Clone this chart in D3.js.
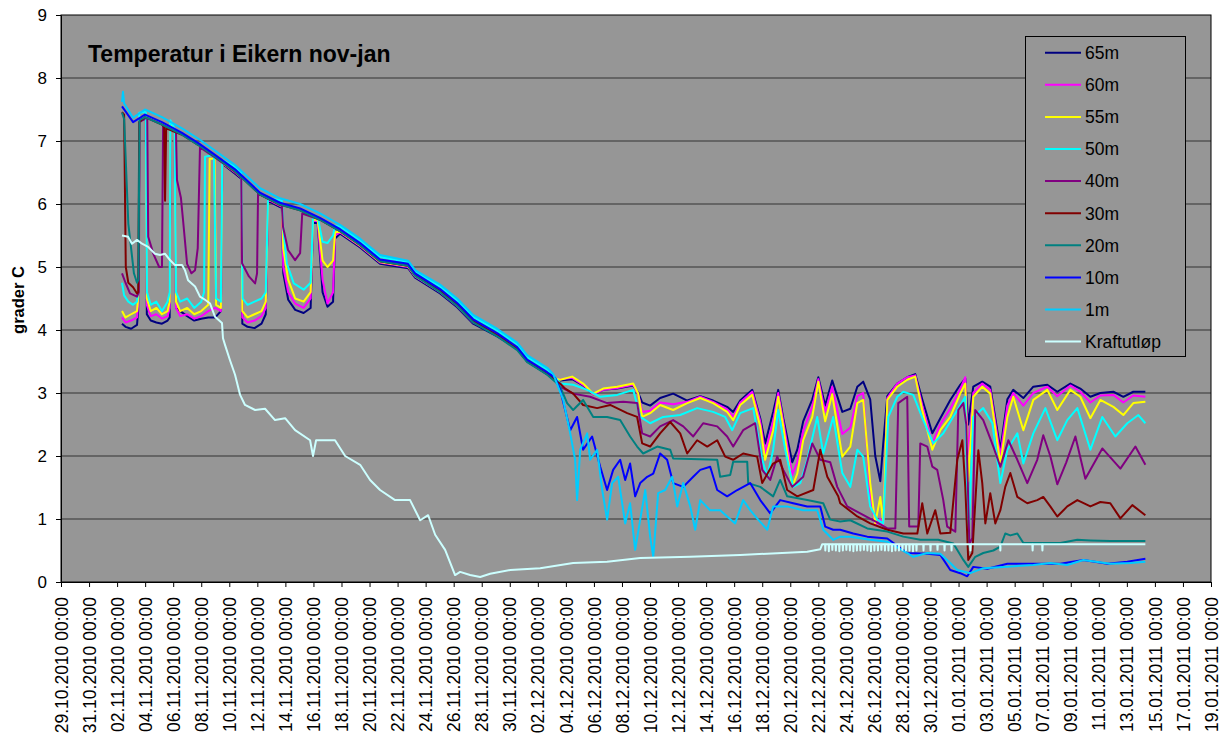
<!DOCTYPE html>
<html>
<head>
<meta charset="utf-8">
<script src="https://cdn.jsdelivr.net/npm/d3@7"></script>
<style>
  body { margin: 0; background: #fff; }
  text { font-family: Arial, "Liberation Sans", sans-serif; }
</style>
</head>
<body>
<script>
'use strict'

// time is given in days after 29.10.2010 00:00, values in degrees C
const startDay = Date.UTC(2010, 9, 29)
const endDay = Date.UTC(2011, 0, 19)
const yTicks = [0, 1, 2, 3, 4, 5, 6, 7, 8, 9]
const seriesNames = ['65m', '60m', '55m', '50m', '40m', '30m', '20m', '10m', '1m', 'Kraftutløp']
const chartTitle = 'Temperatur i Eikern nov-jan'
const yLabel = 'grader C'

const s65m = [[4.35,4.1],[4.6,4.05],[5.0,4.02],[5.42,4.08],[5.5,4.3],[5.6,7.33],[5.99,7.35],[6.05,7.35],
  [6.12,4.25],[6.4,4.15],[6.8,4.12],[7.2,4.1],[7.6,4.15],[7.75,4.2],[7.8,7.25],[8.1,7.12],
  [8.2,4.35],[8.5,4.3],[9.0,4.22],[9.5,4.15],[10.0,4.18],[10.5,4.2],[11.0,4.2],[11.4,4.3],[11.5,6.64],
  [12.41,6.48],[12.85,6.4],[12.93,4.1],[13.3,4.05],[13.8,4.03],[14.3,4.1],[14.6,4.25],[14.76,6.05],
  [15.62,5.95],[15.75,5.94],[15.85,4.9],[16.2,4.48],[16.7,4.32],[17.3,4.27],[17.8,4.35],[17.97,5.7],
  [18.3,5.7],[18.65,4.6],[19.0,4.37],[19.4,4.45],[19.54,5.45],[19.9,5.53],[21.33,5.31],[22.75,5.05],
  [24.75,4.98],[25.25,4.83],[27.03,4.58],[28.25,4.36],[29.39,4.1],[31.1,3.9],[32.53,3.7],[33.24,3.5],
  [34.67,3.3],[35.24,3.2],[35.59,3.2],[36.45,3.22],[37.23,3.12],[37.95,2.98],[38.66,3.05],[39.66,3.07],
  [40.8,3.12],[41.16,3.0],[41.44,2.85],[42.01,2.8],[42.72,2.92],[43.65,2.99],[44.65,2.88],[45.58,2.95],
  [46.5,2.88],[47.5,2.78],[47.93,2.7],[48.43,2.88],[49.29,3.05],[49.86,2.6],[50.21,2.2],[50.78,2.7],
  [51.14,3.05],[51.5,2.6],[52.14,1.9],[52.5,2.1],[52.92,2.55],[53.57,2.9],[54.0,3.25],[54.49,2.8],
  [54.99,3.2],[55.71,2.7],[56.28,2.75],[56.78,3.1],[57.2,3.18],[57.7,2.9],[58.06,2.0],[58.42,1.6],
  [58.63,2.2],[58.92,2.95],[59.63,3.15],[60.34,3.25],[60.91,3.3],[61.41,2.9],[62.13,2.36],[62.7,2.6],
  [63.41,2.89],[64.12,3.13],[64.48,3.23],[64.69,2.5],[65.05,3.1],[65.69,3.18],[66.26,3.1],[66.98,2.1],
  [67.48,2.9],[67.9,3.05],[68.62,2.92],[69.33,3.1],[70.33,3.13],[71.04,3.02],[71.97,3.15],[72.68,3.07],
  [73.4,2.94],[74.11,3.0],[75.04,3.02],[75.75,2.94],[76.46,3.02],[77.32,3.02]]

const s60m = [[4.35,4.2],[4.6,4.12],[5.0,4.15],[5.42,4.2],[5.5,4.4],[5.6,7.36],[5.99,7.37],[6.05,7.37],
  [6.12,4.4],[6.4,4.22],[6.8,4.25],[7.2,4.18],[7.6,4.22],[7.75,4.35],[7.8,7.27],[8.1,7.14],
  [8.2,4.35],[8.5,4.22],[9.0,4.25],[9.5,4.18],[10.0,4.22],[10.5,4.3],[11.0,4.35],[11.4,4.3],[11.5,6.65],
  [12.41,6.5],[12.85,6.42],[12.93,4.2],[13.3,4.12],[13.8,4.15],[14.3,4.22],[14.6,4.35],[14.76,6.07],
  [15.62,5.97],[15.75,5.96],[15.85,5.0],[16.2,4.6],[16.7,4.42],[17.3,4.35],[17.8,4.5],[17.97,5.73],
  [18.3,5.73],[18.65,4.8],[19.0,4.42],[19.4,4.6],[19.54,5.5],[19.9,5.55],[21.33,5.33],[22.75,5.07],
  [24.75,5.0],[25.25,4.85],[27.03,4.6],[28.25,4.38],[29.39,4.12],[31.1,3.93],[32.53,3.71],[33.24,3.51],
  [34.67,3.31],[35.24,3.22],[35.59,3.22],[36.45,3.24],[37.23,3.13],[37.95,2.98],[38.66,3.05],[39.66,3.08],
  [40.8,3.13],[41.16,2.98],[41.44,2.7],[42.01,2.72],[42.72,2.85],[43.65,2.82],[44.65,2.86],[45.58,2.94],
  [46.5,2.86],[47.5,2.74],[47.93,2.62],[48.43,2.85],[49.29,3.02],[49.86,2.55],[50.21,2.05],[50.78,2.55],
  [51.14,3.0],[51.5,2.55],[52.14,1.7],[52.5,1.9],[52.92,2.4],[53.57,2.78],[54.0,3.22],[54.49,2.7],
  [54.99,3.1],[55.71,2.35],[56.28,2.45],[56.78,2.95],[57.2,3.0],[57.7,1.4],[58.06,0.9],[58.42,1.0],
  [58.63,0.9],[58.92,2.92],[59.63,3.15],[60.34,3.25],[60.91,3.28],[61.41,2.8],[62.13,2.2],[62.7,2.5],
  [63.41,2.75],[64.12,3.06],[64.48,3.25],[64.69,2.0],[65.05,3.0],[65.69,3.15],[66.26,3.05],[66.98,2.0],
  [67.48,2.8],[67.9,3.0],[68.62,2.8],[69.33,3.0],[70.33,3.1],[71.04,2.95],[71.97,3.12],[72.68,3.02],
  [73.4,2.85],[74.11,2.96],[75.04,2.97],[75.75,2.85],[76.46,2.96],[77.32,2.94]]

const s55m = [[4.35,4.3],[4.6,4.2],[5.0,4.25],[5.42,4.3],[5.5,4.5],[5.6,7.38],[5.99,7.38],[6.05,7.38],
  [6.12,4.5],[6.4,4.3],[6.8,4.35],[7.2,4.25],[7.6,4.3],[7.75,4.45],[7.8,7.28],[8.1,7.15],
  [8.2,4.45],[8.5,4.3],[9.0,4.35],[9.5,4.25],[10.0,4.3],[10.5,4.4],[10.6,6.72],[10.95,6.72],[11.06,4.4],
  [11.4,4.35],[11.5,6.65],[12.41,6.51],[12.85,6.43],[12.93,4.3],[13.3,4.2],[13.8,4.25],[14.3,4.3],
  [14.6,4.45],[14.76,6.08],[15.62,5.98],[15.75,5.97],[15.85,5.3],[16.2,4.8],[16.7,4.5],[17.3,4.45],
  [17.8,4.6],[17.97,5.75],[18.3,5.75],[18.65,5.1],[19.0,5.0],[19.4,5.1],[19.54,5.55],[19.9,5.56],
  [21.33,5.34],[22.75,5.08],[24.75,5.01],[25.25,4.86],[27.03,4.61],[28.25,4.39],[29.39,4.13],[31.1,3.95],
  [32.53,3.73],[33.24,3.53],[34.67,3.33],[35.24,3.23],[35.59,3.21],[36.45,3.26],[37.23,3.15],[37.95,2.99],
  [38.66,3.07],[39.66,3.1],[40.8,3.15],[41.16,2.99],[41.44,2.62],[42.01,2.68],[42.72,2.81],[43.65,2.73],
  [44.65,2.84],[45.58,2.92],[46.5,2.84],[47.5,2.7],[47.93,2.57],[48.43,2.81],[49.29,2.97],[49.86,2.47],
  [50.21,1.94],[50.78,2.41],[51.14,2.94],[51.5,2.47],[52.14,1.51],[52.5,1.72],[52.92,2.25],[53.57,2.62],
  [54.0,3.18],[54.49,2.55],[54.99,2.98],[55.71,1.99],[56.28,2.15],[56.78,2.84],[57.2,2.89],[57.7,1.57],
  [58.06,0.93],[58.42,1.35],[58.63,0.93],[58.92,2.89],[59.63,3.1],[60.34,3.21],[60.91,3.26],[61.41,2.73],
  [62.13,2.1],[62.7,2.41],[63.41,2.62],[64.12,2.99],[64.48,3.15],[64.69,1.6],[65.05,2.94],[65.69,3.1],
  [66.26,2.99],[66.98,1.88],[67.48,2.62],[67.9,2.94],[68.62,2.41],[69.33,2.89],[70.33,3.05],[71.04,2.73],
  [71.97,3.05],[72.68,2.94],[73.4,2.6],[74.11,2.89],[75.04,2.78],[75.75,2.65],[76.46,2.84],[77.32,2.86]]

const s50m = [[4.35,4.75],[4.5,4.55],[4.8,4.45],[5.14,4.4],[5.42,4.45],[5.5,4.6],[5.58,7.45],[5.99,7.46],
  [6.05,7.45],[6.13,4.6],[6.4,4.4],[6.8,4.45],[7.2,4.3],[7.6,4.45],[7.75,4.6],[7.8,7.33],[8.1,7.2],
  [8.2,4.6],[8.5,4.45],[9.0,4.5],[9.5,4.35],[10.0,4.45],[10.2,4.6],[10.27,6.75],[10.9,6.78],[11.06,4.5],
  [11.4,4.45],[11.5,6.7],[12.41,6.59],[12.85,6.5],[12.95,4.5],[13.3,4.4],[13.8,4.45],[14.3,4.5],
  [14.6,4.6],[14.76,6.1],[15.62,6.06],[15.75,6.05],[15.85,5.6],[16.1,5.06],[16.6,4.74],[17.3,4.64],
  [17.8,4.75],[17.97,5.8],[18.3,5.8],[18.65,5.4],[19.0,5.38],[19.4,5.5],[19.54,5.66],[19.9,5.64],
  [21.33,5.42],[22.75,5.16],[24.75,5.08],[25.25,4.93],[27.03,4.69],[28.25,4.47],[29.39,4.21],[31.1,3.99],
  [32.53,3.77],[33.24,3.57],[34.67,3.37],[35.24,3.25],[35.59,3.15],[36.52,3.13],[37.52,3.05],[38.45,2.94],
  [39.66,2.97],[40.8,3.05],[41.3,2.62],[42.01,2.52],[42.94,2.62],[44.15,2.65],[45.36,2.76],[46.5,2.7],
  [47.36,2.62],[47.86,2.41],[48.43,2.68],[49.36,2.76],[50.0,1.94],[50.36,1.67],[50.78,2.1],[51.14,2.73],
  [51.64,2.1],[52.21,1.51],[52.71,1.57],[53.21,1.94],[53.92,2.62],[54.35,2.04],[55.06,2.62],[55.71,1.73],
  [56.28,1.51],[56.78,2.1],[57.2,1.99],[57.7,1.2],[58.2,0.99],[58.63,0.93],[58.99,2.62],[59.63,2.94],
  [60.06,3.02],[60.77,2.97],[61.48,2.57],[62.2,2.2],[62.91,2.36],[63.91,2.73],[64.48,2.94],[64.69,0.56],
  [65.05,2.62],[65.76,2.76],[66.41,2.52],[66.98,1.57],[67.48,2.1],[68.19,2.36],[68.62,1.88],[69.33,2.36],
  [70.19,2.76],[71.04,2.25],[71.75,2.57],[72.47,2.76],[73.4,2.1],[74.25,2.62],[75.18,2.31],[76.03,2.52],
  [76.82,2.65],[77.32,2.52]]

const s40m = [[4.35,4.9],[4.6,4.75],[4.92,4.58],[5.42,4.53],[5.55,4.6],[5.6,7.3],[5.99,7.36],[6.15,7.36],
  [6.22,5.48],[6.6,5.2],[7.0,5.0],[7.2,5.0],[7.28,7.25],[8.2,7.14],[8.27,6.38],[8.55,6.1],[8.7,5.75],
  [8.99,5.05],[9.3,4.9],[9.56,4.95],[9.75,5.3],[9.91,6.9],[10.98,6.74],[12.41,6.51],[12.85,6.43],
  [12.91,5.06],[13.4,4.85],[13.84,4.74],[13.98,4.9],[14.05,6.17],[15.62,5.98],[15.75,5.97],[15.83,5.64],
  [16.19,5.27],[16.69,5.11],[17.05,5.22],[17.2,5.85],[18.47,5.75],[19.9,5.57],[21.33,5.35],[22.75,5.09],
  [24.75,5.02],[25.25,4.87],[27.03,4.62],[28.25,4.4],[29.39,4.14],[31.1,3.92],[32.53,3.7],[33.24,3.5],
  [34.67,3.3],[35.24,3.22],[35.59,3.1],[36.52,2.99],[37.73,2.94],[38.94,2.84],[40.09,2.86],[41.08,2.84],
  [41.44,2.36],[42.01,2.31],[42.72,2.47],[43.65,2.57],[44.37,2.47],[45.08,2.31],[45.79,2.52],[46.79,2.47],
  [47.5,2.31],[47.93,2.15],[48.64,2.41],[49.5,2.52],[50.0,1.78],[50.57,1.62],[51.07,1.99],[51.5,1.78],
  [52.14,1.51],[52.92,1.67],[53.57,2.2],[54.14,1.94],[54.85,1.9],[55.35,1.51],[56.06,1.2],[56.99,1.09],
  [57.92,0.98],[58.92,0.85],[59.49,0.85],[59.7,2.84],[60.34,2.94],[60.48,0.88],[61.13,0.88],[61.27,2.2],
  [61.77,2.15],[62.13,1.83],[62.48,1.78],[62.91,1.3],[63.19,0.88],[63.77,0.8],[63.98,2.73],[64.34,2.84],
  [64.55,2.5],[64.77,0.6],[64.98,0.7],[65.19,2.73],[65.76,2.57],[66.48,2.15],[66.98,1.83],[67.55,2.25],
  [68.19,1.94],[68.9,1.57],[69.61,1.94],[70.04,2.33],[70.54,2.0],[71.04,1.55],[71.68,1.9],[72.33,2.31],
  [73.04,1.64],[74.25,2.12],[75.54,1.8],[76.61,2.15],[77.32,1.86]]

const s30m = [[4.35,7.46],[4.5,7.42],[4.62,5.0],[4.8,4.75],[5.14,4.68],[5.42,4.58],[5.5,4.6],[5.58,7.3],
  [5.99,7.38],[7.2,7.26],[7.35,7.22],[7.42,6.05],[7.5,7.2],[8.63,7.1],[9.77,6.94],[10.98,6.75],
  [12.41,6.52],[14.19,6.15],[15.62,5.99],[17.05,5.9],[18.47,5.75],[19.9,5.57],[21.33,5.35],[22.75,5.09],
  [24.75,5.02],[25.25,4.87],[27.03,4.62],[28.25,4.4],[29.39,4.14],[31.1,3.92],[32.53,3.7],[33.24,3.5],
  [34.67,3.3],[35.24,3.2],[35.59,3.15],[35.95,3.07],[36.52,2.99],[37.23,2.81],[38.23,2.76],[39.16,2.81],
  [40.37,2.68],[41.08,2.62],[41.44,2.2],[42.01,2.15],[42.72,2.36],[43.44,2.54],[44.15,2.36],[44.65,2.04],
  [45.36,2.25],[46.08,2.15],[46.79,2.25],[47.36,1.99],[47.93,1.94],[48.64,2.04],[49.64,1.99],[50.0,1.57],
  [50.78,1.88],[51.28,1.94],[51.78,1.46],[52.5,1.36],[53.64,1.46],[54.14,2.1],[54.64,1.67],[55.42,1.36],
  [55.56,1.25],[56.78,1.04],[57.7,0.93],[58.92,0.83],[60.06,0.77],[61.06,0.77],[61.41,1.25],[61.77,0.77],
  [62.34,1.14],[62.7,0.77],[63.41,0.78],[63.91,1.94],[64.27,2.25],[64.48,1.51],[64.69,0.35],[64.98,0.46],
  [65.41,2.09],[65.69,1.57],[65.91,0.93],[66.26,1.41],[66.62,0.93],[66.98,1.14],[67.33,1.51],[67.69,1.73],
  [68.19,1.35],[68.9,1.25],[69.61,1.3],[70.04,1.35],[70.54,1.2],[71.04,1.04],[71.75,1.2],[72.47,1.3],
  [73.4,1.2],[74.11,1.27],[74.82,1.25],[75.54,1.01],[76.39,1.22],[77.32,1.06]]

const s20m = [[4.35,7.45],[4.5,7.35],[4.8,5.69],[5.2,4.9],[5.42,4.75],[5.52,4.8],[5.6,7.33],[5.99,7.38],
  [7.2,7.26],[8.63,7.1],[9.77,6.94],[10.98,6.75],[12.41,6.52],[14.19,6.15],[15.62,5.99],[17.05,5.9],
  [18.47,5.75],[19.9,5.57],[21.33,5.35],[22.75,5.09],[24.75,5.02],[25.25,4.86],[27.03,4.6],[28.25,4.38],
  [29.39,4.12],[31.1,3.9],[32.53,3.68],[33.24,3.49],[34.67,3.29],[35.24,3.18],[35.59,3.1],[36.09,2.84],
  [36.52,2.73],[37.23,2.89],[37.95,2.62],[38.94,2.62],[39.87,2.57],[40.58,2.31],[41.08,2.15],[41.51,2.04],
  [42.51,2.15],[43.44,2.1],[43.65,1.96],[46.79,1.94],[47.0,1.67],[47.72,1.7],[47.93,1.91],[48.93,1.91],
  [49.0,1.57],[49.86,1.51],[50.78,1.36],[51.28,1.62],[51.78,1.36],[53.21,1.3],[54.35,1.25],[54.85,0.99],
  [55.56,0.96],[56.28,0.98],[57.49,0.85],[58.92,0.8],[60.06,0.72],[61.27,0.67],[62.55,0.67],[63.63,0.61],
  [64.34,0.35],[64.69,0.24],[65.19,0.4],[65.76,0.46],[66.48,0.5],[66.98,0.56],[67.33,0.77],[67.69,0.74],
  [68.19,0.77],[68.62,0.62],[71.26,0.62],[72.47,0.67],[73.4,0.66],[74.82,0.65],[77.32,0.65]]

const s10m = [[4.35,7.55],[5.14,7.3],[5.99,7.42],[7.2,7.3],[8.63,7.13],[9.77,6.97],[10.98,6.78],[12.41,6.55],
  [14.19,6.18],[15.62,6.02],[17.05,5.93],[18.47,5.78],[19.9,5.6],[21.33,5.38],[22.75,5.12],[24.75,5.05],
  [25.25,4.9],[27.03,4.65],[28.25,4.43],[29.39,4.17],[31.1,3.95],[32.53,3.73],[33.24,3.53],[34.67,3.33],
  [35.24,3.24],[35.59,3.05],[35.95,2.73],[36.31,2.41],[36.8,2.62],[37.23,2.1],[37.87,2.31],[38.45,1.83],
  [38.94,1.46],[39.37,1.78],[39.87,1.94],[40.23,1.62],[40.58,1.88],[40.94,1.36],[41.3,1.57],[41.8,1.67],
  [42.23,1.72],[42.72,2.04],[43.22,1.94],[43.65,1.57],[44.37,1.51],[45.08,1.67],[45.58,1.78],[46.29,1.83],
  [46.79,1.46],[47.5,1.36],[48.22,1.46],[49.14,1.57],[49.86,1.3],[50.57,1.09],[51.28,1.3],[52.21,1.25],
  [53.21,1.2],[54.14,1.2],[54.49,0.88],[55.06,0.83],[55.56,0.83],[56.49,0.77],[57.49,0.72],[58.92,0.69],
  [60.34,0.46],[61.77,0.45],[62.7,0.43],[63.41,0.19],[64.12,0.14],[64.62,0.09],[65.05,0.24],[66.05,0.21],
  [67.48,0.29],[69.33,0.29],[71.26,0.29],[72.9,0.35],[74.61,0.29],[76.03,0.32],[77.32,0.37]]

const s1m = [[4.35,7.62],[4.42,7.78],[4.5,7.6],[5.14,7.37],[5.99,7.5],[7.2,7.38],[8.63,7.2],[9.77,7.04],
  [10.98,6.85],[12.41,6.62],[14.19,6.25],[15.62,6.09],[17.05,6.0],[18.47,5.85],[19.9,5.67],[21.33,5.45],
  [22.75,5.19],[24.75,5.1],[25.25,4.95],[27.03,4.72],[28.25,4.5],[29.39,4.24],[31.1,4.02],[32.53,3.8],
  [33.24,3.6],[34.67,3.4],[35.1,3.3],[35.81,2.89],[36.31,2.36],[36.66,1.94],[36.8,1.3],[37.02,2.1],
  [37.52,2.36],[37.73,1.94],[38.23,2.1],[38.59,1.46],[38.94,0.99],[39.3,1.57],[39.73,1.67],[40.23,0.93],
  [40.58,1.25],[40.94,0.51],[41.3,0.99],[41.66,1.46],[42.01,0.72],[42.23,0.4],[42.58,1.41],[43.08,1.46],
  [43.58,1.67],[43.94,1.2],[44.37,1.57],[44.87,1.2],[45.22,0.83],[45.58,1.3],[46.29,1.14],[47.0,1.14],
  [47.5,1.04],[48.07,0.93],[48.64,1.3],[49.14,1.14],[49.71,0.99],[50.36,0.83],[50.78,1.2],[51.78,1.2],
  [52.92,1.14],[53.92,1.14],[54.35,0.83],[55.06,0.67],[55.56,0.72],[56.28,0.72],[57.7,0.67],[58.92,0.64],
  [60.34,0.46],[60.77,0.4],[61.77,0.46],[62.7,0.45],[63.41,0.3],[63.91,0.19],[64.84,0.14],[65.76,0.22],
  [67.19,0.24],[69.33,0.27],[70.54,0.3],[71.75,0.27],[72.9,0.35],[74.82,0.29],[76.25,0.3],[77.32,0.32]]

const sKraft = [[4.35,5.5],[4.78,5.48],[5.06,5.37],[5.42,5.43],[5.78,5.37],[6.21,5.32],[6.7,5.21],[7.06,5.19],
  [7.42,5.21],[7.77,5.11],[8.13,5.03],[8.63,5.03],[8.84,4.95],[9.06,4.79],[9.56,4.69],[9.91,4.53],
  [10.27,4.48],[10.63,4.42],[10.98,4.21],[11.48,4.11],[11.55,3.87],[11.7,3.76],[12.05,3.52],[12.41,3.29],
  [12.77,2.97],[13.12,2.81],[13.84,2.73],[14.55,2.75],[15.26,2.57],[15.98,2.6],[16.69,2.41],[17.76,2.25],
  [17.97,2.0],[18.19,2.25],[19.54,2.25],[20.26,2.0],[21.33,1.86],[22.04,1.62],[22.75,1.46],[23.82,1.3],
  [24.89,1.3],[25.61,0.98],[26.18,1.06],[26.68,0.75],[27.39,0.51],[28.1,0.11],[28.46,0.16],[29.17,0.11],
  [29.89,0.08],[30.6,0.13],[32.03,0.19],[34.17,0.22],[36.52,0.3],[38.94,0.32],[41.3,0.38],[44.87,0.4],
  [48.43,0.43],[53.21,0.48],[54.14,0.52],[54.28,0.6],
  [54.48,0.6],[54.5,0.5],[54.52,0.6],[54.73,0.6],[54.75,0.49],[54.77,0.6],[54.98,0.6],[55.0,0.51],[55.02,0.6],
  [55.23,0.6],[55.25,0.5],[55.27,0.6],[55.48,0.6],[55.5,0.49],[55.52,0.6],[55.73,0.6],[55.75,0.5],[55.77,0.6],
  [55.98,0.6],[56.0,0.51],[56.02,0.6],[56.23,0.6],[56.25,0.5],[56.27,0.6],[56.48,0.6],[56.5,0.49],[56.52,0.6],
  [56.73,0.6],[56.75,0.5],[56.77,0.6],[56.98,0.6],[57.0,0.5],[57.02,0.6],[57.23,0.6],[57.25,0.51],[57.27,0.6],
  [57.48,0.6],[57.5,0.5],[57.52,0.6],[57.73,0.6],[57.75,0.49],[57.77,0.6],[57.98,0.6],[58.0,0.5],[58.02,0.6],
  [58.23,0.6],[58.25,0.5],[58.27,0.6],[58.48,0.6],[58.5,0.51],[58.52,0.6],[58.73,0.6],[58.75,0.5],[58.77,0.6],
  [58.98,0.6],[59.0,0.5],[59.02,0.6],[59.23,0.6],[59.25,0.49],[59.27,0.6],[59.48,0.6],[59.5,0.5],[59.52,0.6],
  [59.73,0.6],[59.75,0.5],[59.77,0.6],[59.98,0.6],[60.0,0.51],[60.02,0.6],[60.23,0.6],[60.25,0.5],[60.27,0.6],
  [60.48,0.6],[60.5,0.5],[60.52,0.6],[60.73,0.6],[60.75,0.49],[60.77,0.6],[60.98,0.6],[61.0,0.5],[61.02,0.6],
  [61.48,0.6],[61.5,0.5],[61.52,0.6],[61.98,0.6],[62.0,0.5],[62.02,0.6],[62.48,0.6],[62.5,0.51],[62.52,0.6],
  [62.98,0.6],[63.0,0.5],[63.02,0.6],[63.48,0.6],[63.5,0.5],[63.52,0.6],[64.83,0.6],[64.85,0.5],[64.87,0.6],
  [66.96,0.6],[66.98,0.5],[67.0,0.6],[69.26,0.6],[69.28,0.5],[69.3,0.6],[69.96,0.6],[69.98,0.5],[70.0,0.6],
  [77.32,0.6]]

const seriesData = [s65m, s60m, s55m, s50m, s40m, s30m, s20m, s10m, s1m, sKraft]
const seriesColors = ['#000080', '#ff00ff', '#ffff00', '#00ffff', '#800080', '#800000', '#008080', '#0000ff', '#00ccff', '#ccffff']

const width = 1223, height = 745
const plot = {left: 61, right: 1211, top: 15, bottom: 582}

function toDate(d) {
  return new Date(startDay + d * 864e5)
}

const svg = d3.select('body').append('svg')
  .attr('width', width)
  .attr('height', height)

const x = d3.scaleUtc()
  .domain([new Date(startDay), new Date(endDay)])
  .range([plot.left, plot.right])

const y = d3.scaleLinear()
  .domain([0, 9])
  .range([plot.bottom, plot.top])

// plot area
svg.append('rect')
  .attr('x', plot.left).attr('y', plot.top)
  .attr('width', plot.right - plot.left).attr('height', plot.bottom - plot.top)
  .attr('fill', '#969696')

svg.append('g').selectAll('line')
  .data(yTicks.slice(1, -1))
  .enter().append('line')
  .attr('x1', plot.left).attr('x2', plot.right)
  .attr('y1', d => y(d)).attr('y2', d => y(d))
  .attr('stroke', '#333').attr('stroke-width', 1)

// lines
const line = d3.line()
  .x(d => x(toDate(d[0])))
  .y(d => y(d[1]))

svg.append('clipPath').attr('id', 'clip')
  .append('rect')
  .attr('x', plot.left).attr('y', plot.top)
  .attr('width', plot.right - plot.left).attr('height', plot.bottom - plot.top)

svg.append('g').attr('clip-path', 'url(#clip)')
  .selectAll('path')
  .data(seriesData)
  .enter().append('path')
  .attr('d', line)
  .attr('fill', 'none')
  .attr('stroke', (d, i) => seriesColors[i])
  .attr('stroke-width', 2)
  .attr('stroke-linejoin', 'round')

svg.append('rect')
  .attr('x', plot.left).attr('y', plot.top)
  .attr('width', plot.right - plot.left).attr('height', plot.bottom - plot.top)
  .attr('fill', 'none')
  .attr('stroke', '#000').attr('stroke-width', 1)

// axes
const xTicks = d3.utcDay.range(new Date(startDay), new Date(endDay + 1), 2)

const xAxis = d3.axisBottom(x)
  .tickValues(xTicks)
  .tickFormat(d3.utcFormat('%d.%m.%Y %H:%M'))
  .tickSize(5)
  .tickSizeOuter(0)

const gx = svg.append('g')
  .attr('transform', 'translate(0,' + plot.bottom + ')')
  .call(xAxis)

gx.selectAll('text')
  .attr('transform', 'rotate(-90)')
  .attr('text-anchor', 'end')
  .attr('x', -15)
  .attr('y', 0)
  .attr('dy', '0.35em')
  .style('font-size', '17.5px')
  .attr('fill', '#000')

const yAxis = d3.axisLeft(y)
  .tickValues(yTicks)
  .tickSize(5)
  .tickPadding(9)
  .tickSizeOuter(0)

const gy = svg.append('g')
  .attr('transform', 'translate(' + plot.left + ',0)')
  .call(yAxis)

gy.selectAll('text')
  .style('font-size', '17px')
  .attr('fill', '#000')

svg.selectAll('.domain').attr('stroke', '#000')
svg.selectAll('.tick line').attr('stroke', '#000')

// title and axis label
svg.append('text')
  .attr('x', 88).attr('y', 62)
  .style('font-size', '23px')
  .style('font-weight', 'bold')
  .text(chartTitle)

svg.append('text')
  .attr('text-anchor', 'middle')
  .attr('transform', 'translate(24,300)rotate(-90)')
  .style('font-size', '16.5px')
  .style('font-weight', 'bold')
  .text(yLabel)

// legend
const legend = svg.append('g')

legend.append('rect')
  .attr('x', 1025.5).attr('y', 36.5)
  .attr('width', 160).attr('height', 320)
  .attr('fill', '#969696')
  .attr('stroke', '#000').attr('stroke-width', 1)

const items = legend.selectAll('g.item')
  .data(seriesNames)
  .enter().append('g')
  .attr('class', 'item')
  .attr('transform', (d, i) => 'translate(0,' + (52.7 + i * 32.1) + ')')

items.append('line')
  .attr('x1', 1045).attr('x2', 1081)
  .attr('stroke', (d, i) => seriesColors[i])
  .attr('stroke-width', 2)

items.append('text')
  .attr('x', 1085).attr('dy', '0.36em')
  .style('font-size', '17.5px')
  .text(d => d)
</script>
</body>
</html>
